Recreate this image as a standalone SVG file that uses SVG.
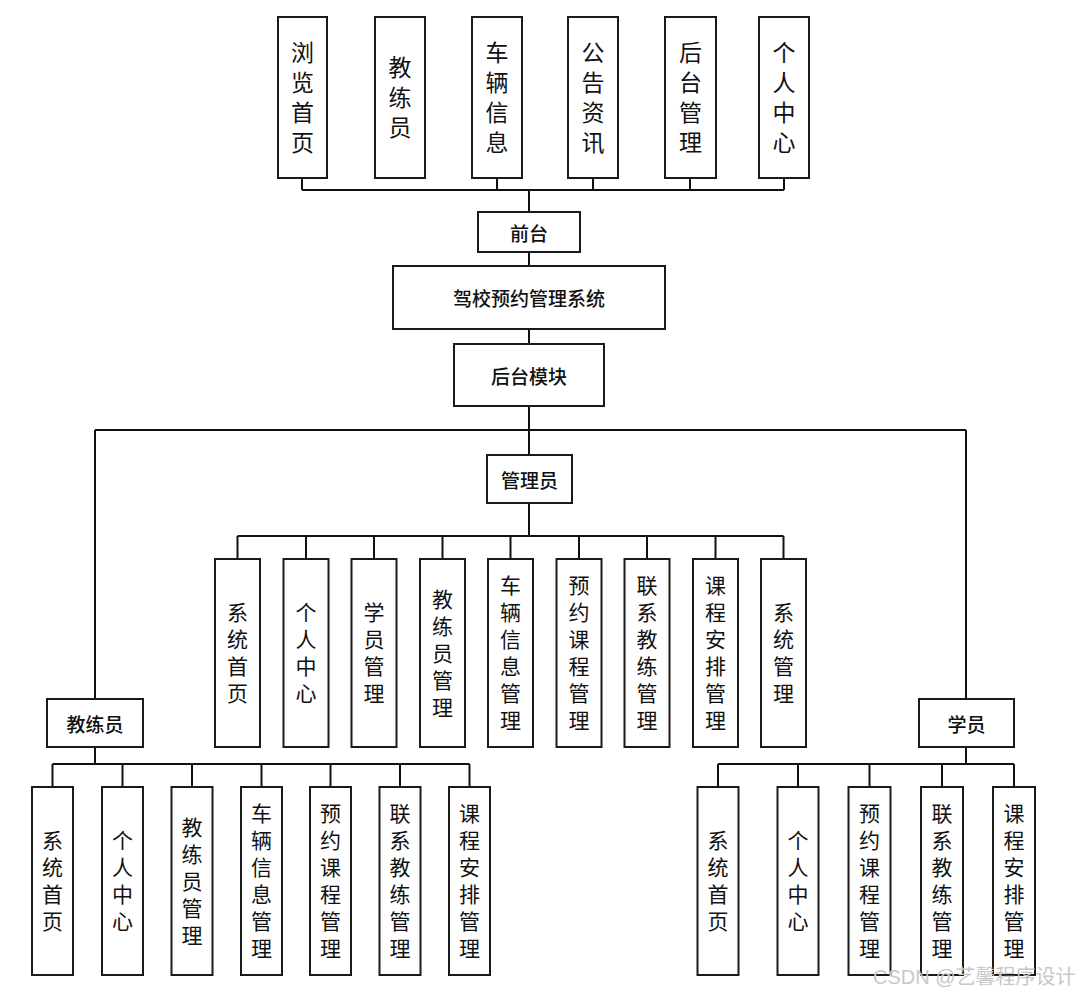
<svg xmlns="http://www.w3.org/2000/svg" width="1079" height="993" viewBox="0 0 1079 993">
<style>
.b{fill:#fff;stroke:#1a1a1a;stroke-width:2}
.t{font-family:"Noto Sans CJK SC","Noto Sans",sans-serif;fill:#111;text-anchor:middle;dominant-baseline:central}
.vt{font-family:"Noto Sans CJK SC","Noto Sans",sans-serif;fill:#111;text-anchor:middle;writing-mode:vertical-rl;text-orientation:upright}
.v1{font-size:23px;letter-spacing:7px}
.v2{font-size:21px;letter-spacing:6px}
.h{font-size:19px;font-weight:500}
.c{fill:none;stroke:#111;stroke-width:2}
.w{font-family:"Liberation Sans","Noto Sans CJK SC",sans-serif;font-size:20px;fill:#c8c8c8}
</style>
<rect width="1079" height="993" fill="#fff"/>
<g id="connectors" class="c">
<path d="M302 178V190M497 178V190M593 178V190M690 178V190M784 178V190M302 190H784M529 190V212"/>
<path d="M529 252V266M529 329V344M529 406V455"/>
<path d="M95 430H966M95 430V699M966 430V699"/>
<path d="M529 503V536M237.5 536H783.5M237.5 536V559M306 536V559M374 536V559M442.5 536V559M510.5 536V559M579 536V559M647 536V559M715.5 536V559M783.5 536V559"/>
<path d="M95 747V764M52.5 764H469.5M52.5 764V787M122.5 764V787M192 764V787M261.5 764V787M330.5 764V787M400 764V787M469.5 764V787"/>
<path d="M966 747V764M718 764H1014M718 764V787M798 764V787M869.5 764V787M942 764V787M1014 764V787"/>
</g>
<g id="n-liulan"><rect class="b" x="278" y="17" width="49" height="161"/><text class="vt v1" x="302.5" y="101">浏览首页</text></g>
<g id="n-jiaolianyuan-top"><rect class="b" x="375" y="17" width="50" height="161"/><text class="vt v1" x="400" y="101">教练员</text></g>
<g id="n-cheliang"><rect class="b" x="472" y="17" width="50" height="161"/><text class="vt v1" x="497" y="101">车辆信息</text></g>
<g id="n-gonggao"><rect class="b" x="568" y="17" width="50" height="161"/><text class="vt v1" x="593" y="101">公告资讯</text></g>
<g id="n-houtaiguanli"><rect class="b" x="665" y="17" width="51" height="161"/><text class="vt v1" x="690.5" y="101">后台管理</text></g>
<g id="n-gerenzhongxin-top"><rect class="b" x="759" y="17" width="50" height="161"/><text class="vt v1" x="784" y="101">个人中心</text></g>
<g id="n-qiantai"><rect class="b" x="478" y="212" width="102" height="40"/><text class="t h" x="529" y="232">前台</text></g>
<g id="n-system"><rect class="b" x="393" y="266" width="272" height="63"/><text class="t h" x="529" y="297.5">驾校预约管理系统</text></g>
<g id="n-houtaimokuai"><rect class="b" x="454" y="344" width="150" height="62"/><text class="t h" x="529" y="375">后台模块</text></g>
<g id="n-admin"><rect class="b" x="487" y="455" width="85" height="48"/><text class="t h" x="529.5" y="479">管理员</text></g>
<g id="a1"><rect class="b" x="215" y="559" width="45" height="188"/><text class="vt v2" x="237.5" y="656">系统首页</text></g>
<g id="a2"><rect class="b" x="283.5" y="559" width="45" height="188"/><text class="vt v2" x="306" y="656">个人中心</text></g>
<g id="a3"><rect class="b" x="351.5" y="559" width="45" height="188"/><text class="vt v2" x="374" y="656">学员管理</text></g>
<g id="a4"><rect class="b" x="420" y="559" width="45" height="188"/><text class="vt v2" x="442.5" y="656">教练员管理</text></g>
<g id="a5"><rect class="b" x="488" y="559" width="45" height="188"/><text class="vt v2" x="510.5" y="656">车辆信息管理</text></g>
<g id="a6"><rect class="b" x="556.5" y="559" width="45" height="188"/><text class="vt v2" x="579" y="656">预约课程管理</text></g>
<g id="a7"><rect class="b" x="624.5" y="559" width="45" height="188"/><text class="vt v2" x="647" y="656">联系教练管理</text></g>
<g id="a8"><rect class="b" x="693" y="559" width="45" height="188"/><text class="vt v2" x="715.5" y="656">课程安排管理</text></g>
<g id="a9"><rect class="b" x="761" y="559" width="45" height="188"/><text class="vt v2" x="783.5" y="656">系统管理</text></g>
<g id="n-coach"><rect class="b" x="47" y="699" width="96" height="48"/><text class="t h" x="95" y="723">教练员</text></g>
<g id="c1"><rect class="b" x="32" y="787" width="41" height="188"/><text class="vt v2" x="52.5" y="884">系统首页</text></g>
<g id="c2"><rect class="b" x="102" y="787" width="41" height="188"/><text class="vt v2" x="122.5" y="884">个人中心</text></g>
<g id="c3"><rect class="b" x="171.5" y="787" width="41" height="188"/><text class="vt v2" x="192" y="884">教练员管理</text></g>
<g id="c4"><rect class="b" x="241" y="787" width="41" height="188"/><text class="vt v2" x="261.5" y="884">车辆信息管理</text></g>
<g id="c5"><rect class="b" x="310" y="787" width="41" height="188"/><text class="vt v2" x="330.5" y="884">预约课程管理</text></g>
<g id="c6"><rect class="b" x="379.5" y="787" width="41" height="188"/><text class="vt v2" x="400" y="884">联系教练管理</text></g>
<g id="c7"><rect class="b" x="449" y="787" width="41" height="188"/><text class="vt v2" x="469.5" y="884">课程安排管理</text></g>
<g id="n-student"><rect class="b" x="919" y="699" width="95" height="48"/><text class="t h" x="966.5" y="723">学员</text></g>
<g id="s1"><rect class="b" x="697.5" y="787" width="41" height="188"/><text class="vt v2" x="718" y="884">系统首页</text></g>
<g id="s2"><rect class="b" x="777.5" y="787" width="41" height="188"/><text class="vt v2" x="798" y="884">个人中心</text></g>
<g id="s3"><rect class="b" x="848.5" y="787" width="42" height="188"/><text class="vt v2" x="869.5" y="884">预约课程管理</text></g>
<g id="s4"><rect class="b" x="921" y="787" width="42" height="188"/><text class="vt v2" x="942" y="884">联系教练管理</text></g>
<g id="s5"><rect class="b" x="993" y="787" width="42" height="188"/><text class="vt v2" x="1014" y="884">课程安排管理</text></g>
<text class="w" x="873" y="984">CSDN @艺馨程序设计</text>
</svg>
